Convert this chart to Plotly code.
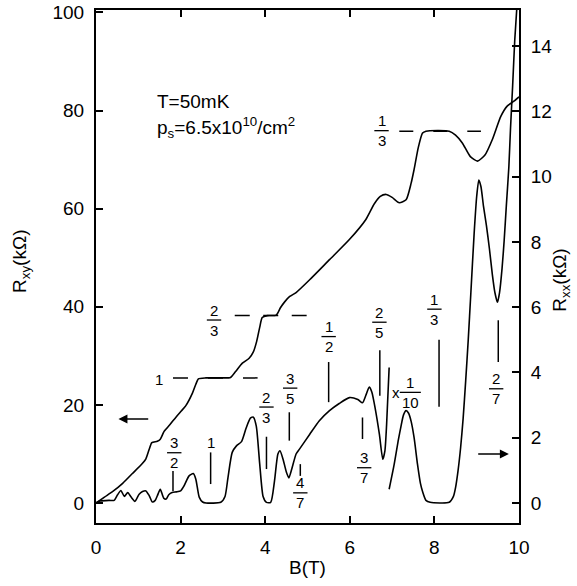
import plotly.graph_objects as go

# ---------------- data ----------------
# Hall resistance R_xy (kOhm) vs B (T) -- left axis
B_xy = [0, 0.2, 0.39, 0.63, 0.86, 1.1, 1.18, 1.26, 1.32, 1.45, 1.52, 1.61, 1.75, 1.89, 2.0, 2.12, 2.28,
        2.36, 2.42, 2.6, 3.0, 3.18, 3.3, 3.46, 3.62, 3.72, 3.8, 3.87, 3.93, 4.05, 4.26, 4.36, 4.46, 4.58,
        4.73, 5.05, 5.52, 5.99, 6.38, 6.58, 6.72, 6.86, 7.0, 7.17, 7.33, 7.45, 7.52, 7.62, 7.72, 7.8,
        8.35, 8.5, 8.66, 8.85, 9.02, 9.2, 9.37, 9.57, 9.72, 9.88, 10.0]
R_xy = [0, 1.2, 2.3, 4.0, 6.0, 8.1, 9.0, 11.0, 12.3, 12.6, 13.0, 14.6, 16.0, 17.5, 18.6, 19.8, 22.4,
        24.2, 25.3, 25.5, 25.5, 25.6, 26.8, 28.5, 29.5, 30.8, 33.0, 35.8, 37.8, 38.2, 38.3, 39.8, 41.0, 42.1,
        42.9, 45.5, 49.6, 53.7, 57.8, 61.0, 62.5, 62.9, 62.3, 61.2, 61.8, 65.2, 68.0, 72.5, 75.4, 75.8,
        75.8, 75.0, 73.4, 70.6, 69.7, 71.0, 74.1, 78.8, 80.9, 81.9, 82.8]

# Longitudinal resistance R_xx (kOhm) -- right axis, unscaled part
B_xx = [0, 0.1, 0.31, 0.43, 0.51, 0.59, 0.67, 0.75, 0.83, 0.92, 1.02, 1.1, 1.18, 1.26, 1.33, 1.4, 1.45,
        1.52, 1.6, 1.66, 1.72, 1.8, 1.9, 2.0, 2.08, 2.2, 2.3, 2.36, 2.44, 2.52, 2.6, 2.95, 3.05, 3.12,
        3.22, 3.32, 3.44, 3.55, 3.65, 3.72, 3.79, 3.87, 3.95, 4.03, 4.13, 4.22, 4.3, 4.35, 4.42, 4.5,
        4.56, 4.63, 4.73, 4.81, 5.05, 5.28, 5.52, 5.75, 5.99, 6.19, 6.3, 6.38, 6.46, 6.52, 6.6, 6.7,
        6.78, 6.83, 6.87, 6.93]
R_xx = [0, 0.06, 0.08, 0.08, 0.25, 0.38, 0.2, 0.32, 0.18, 0.05, 0.27, 0.35, 0.37, 0.22, 0.03, 0.08, 0.22,
        0.42, 0.15, 0.12, 0.25, 0.32, 0.34, 0.37, 0.52, 0.83, 0.9, 0.73, 0.18, 0.03, 0.0, 0.02, 0.2, 0.78,
        1.55, 1.75, 1.88, 2.3, 2.6, 2.63, 2.35, 1.2, 0.2, 0.02, 0.02, 0.68, 1.5, 1.6, 1.35, 0.95,
        0.77, 1.05, 1.5, 1.65, 2.1, 2.52, 2.83, 3.05, 3.23, 3.17, 3.07, 3.3, 3.55, 3.4, 2.9, 2.1,
        1.34, 1.6, 2.4, 4.15]

# R_xx part shown scaled by x 1/10
B_xx10 = [6.93, 7.05, 7.15, 7.21, 7.27, 7.33, 7.39, 7.45, 7.52, 7.6, 7.67, 7.72, 7.8, 7.9, 8.35, 8.45,
          8.5, 8.56, 8.62, 8.68, 8.74, 8.8, 8.86, 8.94, 9.0, 9.05, 9.1, 9.16, 9.23, 9.3, 9.37, 9.43,
          9.49, 9.54, 9.6, 9.65, 9.7, 9.76, 9.8, 9.85, 9.9, 9.95]
R_xx10 = [0.42, 1.19, 1.95, 2.35, 2.7, 2.83, 2.75, 2.5, 2.0, 1.19, 0.6, 0.35, 0.08, 0.02, 0.02, 0.2,
          0.47, 1.0, 1.7, 2.6, 3.75, 5.0, 6.4, 8.27, 9.4, 9.9, 9.7, 9.1, 8.5, 7.8, 7.0, 6.45,
          6.15, 6.45, 7.2, 8.06, 9.1, 10.3, 11.5, 12.8, 14.2, 15.2]

x_ticks = [0, 2, 4, 6, 8, 10]
y_ticks = [0, 20, 40, 60, 80, 100]
y2_ticks = [0, 2, 4, 6, 8, 10, 12, 14]

# filling-factor labels on R_xx: (numerator, denominator, B, bar level)
xx_fracs = [("3", "2", 1.85, 1.54), ("2", "3", 4.03, 2.94), ("3", "5", 4.59, 3.52),
            ("4", "7", 4.83, 0.31), ("1", "2", 5.5, 5.1), ("3", "7", 6.34, 1.08),
            ("2", "5", 6.7, 5.54), ("1", "3", 8.0, 5.94), ("2", "7", 9.46, 3.5)]
xx_ints = [("1", 2.71, 1.86)]
# marker lines on R_xx: (B, from, to)
xx_marks = [(1.82, 0.37, 0.98), (2.71, 0.58, 1.55), (4.03, 1.04, 2.03), (4.57, 1.91, 2.78),
            (4.83, 0.83, 1.19), (5.5, 3.09, 4.32), (6.3, 1.96, 2.62), (6.71, 3.29, 4.68),
            (8.11, 2.95, 5.0), (9.51, 4.32, 5.6)]
# plateau labels on R_xy
xy_fracs = [("2", "3", 2.79, 37.3), ("1", "3", 6.75, 75.9)]
xy_ints = [("1", 1.5, 25.1)]
# dashed plateau lines: (level, B start, B end, dash)
plateaus = [(25.5, 1.82, 3.82, "15px,20px"), (38.2, 3.28, 4.98, "15px,13.5px"),
            (75.8, 7.17, 9.1, "14px,20px")]

FONT = "Liberation Sans, Arial, Helvetica, sans-serif"

fig = go.Figure()
line = dict(color="black", width=1.6, shape="spline", smoothing=0.6)
fig.add_trace(go.Scatter(x=B_xy, y=R_xy, mode="lines", line=line, yaxis="y", showlegend=False))
fig.add_trace(go.Scatter(x=B_xx, y=R_xx, mode="lines", line=line, yaxis="y2", showlegend=False))
fig.add_trace(go.Scatter(x=B_xx10, y=R_xx10, mode="lines", line=line, yaxis="y2", showlegend=False))

ann = []
shapes = []
FS = 15


def label(text, x, y, xref="x", yref="y", size=FS, yshift=0, **kw):
    d = dict(x=x, y=y, xref=xref, yref=yref, text=text, showarrow=False, yshift=yshift,
             xanchor="center", yanchor="middle", font=dict(size=size, family=FONT, color="black"))
    d.update(kw)
    ann.append(d)


def frac(num, den, x, y, yref, width=0.17):
    label(num, x, y, yref=yref, yshift=10)
    label(den, x, y, yref=yref, yshift=-10)
    shapes.append(dict(type="line", xref="x", yref=yref, x0=x - width, x1=x + width, y0=y, y1=y,
                       line=dict(color="black", width=1.3)))


for n, d, x, y in xx_fracs:
    frac(n, d, x, y, "y2")
for n, d, x, y in xy_fracs:
    frac(n, d, x, y, "y")
for t, x, y in xx_ints:
    label(t, x, y, yref="y2")
for t, x, y in xy_ints:
    label(t, x, y, yref="y")
# x 1/10 label
frac("1", "10", 7.43, 3.39, "y2", width=0.25)
label("x", 7.09, 3.39, yref="y2")

for b, y0, y1 in xx_marks:
    shapes.append(dict(type="line", xref="x", yref="y2", x0=b, x1=b, y0=y0, y1=y1,
                       line=dict(color="black", width=1.5)))
for lev, b0, b1, dash in plateaus:
    shapes.append(dict(type="line", xref="x", yref="y", x0=b0, x1=b1, y0=lev, y1=lev,
                       line=dict(color="black", width=1.5, dash=dash)))

# arrows
ann.append(dict(x=0.53, y=17.1, xref="x", yref="y", ax=1.27, ay=17.1, axref="x", ayref="y",
                text="", showarrow=True, arrowhead=2, arrowsize=1.2, arrowwidth=1.5, arrowcolor="black"))
ann.append(dict(x=9.76, y=1.5, xref="x", yref="y2", ax=9.0, ay=1.5, axref="x", ayref="y2",
                text="", showarrow=True, arrowhead=2, arrowsize=1.2, arrowwidth=1.5, arrowcolor="black"))

# texts
label("T=50mK", 1.39, 81.9, size=19, xanchor="left")
label("p<sub>s</sub>=6.5x10<sup>10</sup>/cm<sup>2</sup>", 1.39, 76.6, size=19, xanchor="left")

# axis titles
label("B(T)", 0.499, -0.086, xref="paper", yref="paper", size=19)
label("R<sub>xy</sub>(kΩ)", -0.176, 0.51, xref="paper", yref="paper", size=19, textangle=-90)
label("R<sub>xx</sub>(kΩ)", 1.099, 0.474, xref="paper", yref="paper", size=19, textangle=-90)

axis_common = dict(showline=True, linecolor="black", linewidth=2, ticks="inside", ticklen=7,
                   tickwidth=1.5, tickcolor="black", showgrid=False, zeroline=False, automargin=False,
                   ticklabeloverflow="allow", ticklabelstandoff=6,
                   tickfont=dict(size=19, family=FONT, color="black"))

fig.update_layout(
    width=577, height=586,
    margin=dict(l=96, r=58, t=10, b=63),
    paper_bgcolor="white", plot_bgcolor="white",
    xaxis=dict(range=[0, 10], tickvals=x_ticks, mirror="ticks", **axis_common),
    yaxis=dict(range=[-4.08, 100.5], tickvals=y_ticks, **axis_common),
    yaxis2=dict(range=[-0.614, 15.11], tickvals=y2_ticks, overlaying="y", side="right", **axis_common),
    annotations=ann, shapes=shapes, showlegend=False,
)

# remove the browser's default 8 px body margin so the figure fills the window exactly
fig.write_html("out.html", config={"displayModeBar": False},
               post_script="document.body.style.margin='0';")
